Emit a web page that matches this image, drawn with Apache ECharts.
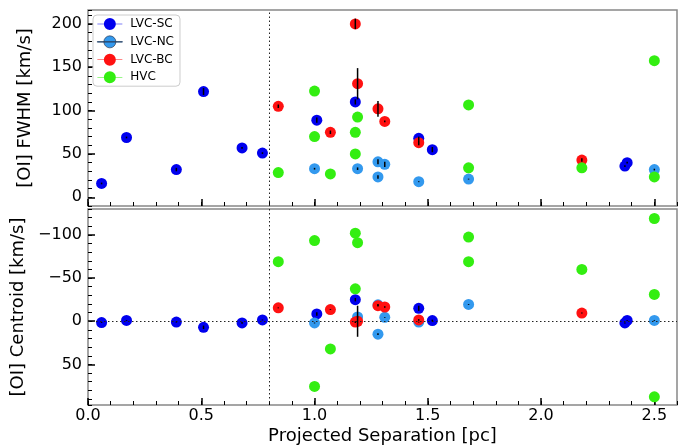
<!DOCTYPE html>
<html>
<head>
<meta charset="UTF-8"/>
<script src="https://cdn.jsdelivr.net/npm/echarts@6/dist/echarts.min.js"></script>
<style type="text/css">
	html, body { margin:0; padding:0; background:#fff; }
	#main { width:687px; height:448px; }
</style>
</head>
<body>
<div id="main"></div>
<script type="text/javascript">

// LVC-SC (broad blue)
var sepSC   = [0.06, 0.17, 0.39, 0.51, 0.68, 0.77, 1.01, 1.18, 1.46, 1.52, 2.37, 2.38];
var fwhmSC  = [16, 69, 32, 122, 57, 51, 89, 110, 68, 55, 36, 40];
var fwhmErrSC = [1, 1, 2, 4, 1, 1, 3, 3, 2, 3, 1, 1];
var cenSC   = [1.5, -1, 1, 7, 2, -1.5, -8.5, -25, -15, -0.8, 2, -1];
var cenErrSC  = [0.5, 0.5, 0.5, 2, 1, 0.5, 2, 2, 3, 1, 0.5, 0.5];

// LVC-NC
var sepNC   = [1.00, 1.19, 1.28, 1.31, 1.28, 1.46, 1.68, 2.50];
var fwhmNC  = [33, 33, 41, 38, 23.5, 18, 21, 32];
var fwhmErrNC = [1, 1.5, 3, 3, 2, 0.5, 0.5, 1];
var cenNC   = [2, -5, -19, -4.5, 15, 1, -19.5, -1];
var cenErrNC  = [0.5, 0.5, 1, 0.5, 1, 0.5, 0.5, 0.5];

// LVC-BC
var sepBC   = [0.84, 1.07, 1.18, 1.19, 1.28, 1.31, 1.46, 2.18];
var fwhmBC  = [105, 75, 200, 131, 102, 87.5, 63, 43];
var fwhmErrBC = [2, 2, 6, 18, 9, 1, 3, 2];
var cenBC   = [-15.5, -13.5, 1, 0, -18, -16.5, -1.5, -9.5];
var cenErrBC  = [0.5, 0.5, 1, 18, 1, 1, 1, 0.5];

// HVC
var sepHVC     = [0.84, 1.00, 1.00, 1.07, 1.18, 1.19, 1.18, 1.68, 1.68, 2.18, 2.50, 2.50];
var fwhmHVC    = [28.5, 122.5, 70, 27, 75, 92.5, 50, 106.5, 34, 34, 157.5, 23.5];
var sepHVCcen  = [0.84, 1.00, 1.00, 1.07, 1.18, 1.19, 1.18, 1.68, 1.68, 2.18, 2.50, 2.50, 2.50];
var cenHVC     = [-69, -93.5, 75.5, 32, -102, -91, -37.5, -97.5, -69, -60, -119, -31, 87.5];

// ticks
var xTicks    = [0, 0.5, 1.0, 1.5, 2.0, 2.5];
var fwhmTicks = [0, 50, 100, 150, 200];
var cenTicks  = [-100, -50, 0, 50];
var boundary  = 0.8;

var colors = {
	'LVC-SC': '#0000ee',
	'LVC-NC': '#3399ee',
	'LVC-BC': '#ff1111',
	'HVC': '#33ee11'
};

function zip(a, b, c){
	var out = [];
	for(var i=0;i<a.length;i++){
		out.push(c ? [a[i], b[i], c[i]] : [a[i], b[i]]);
	}
	return out;
}
function minus(v){
	return String(v).replace('-', '\u2212');
}

var chart = echarts.init(document.getElementById('main'));
var font = 'DejaVu Sans';
var frame = '#888888';

function mainX(grid, labels){
	return {
		type:'value', gridIndex:grid, min:0, max:2.6, position:'bottom',
		name: labels ? 'Projected Separation [pc]' : '',
		nameLocation:'middle', nameGap:22,
		nameTextStyle:{ fontFamily:font, fontSize:18, color:'#000' },
		axisLine:{ show:false, onZero:false },
		axisTick:{ inside:true, length:7, customValues:xTicks, lineStyle:{ color:'#000', width:1.5 } },
		axisLabel:{ show:labels, customValues:xTicks, margin:3, fontFamily:font, fontSize:16, color:'#000',
			formatter:function(v){ return v.toFixed(1); } },
		splitLine:{ show:false }
	};
}
function minorX(grid){
	return {
		type:'value', gridIndex:grid, min:0, max:2.6, interval:0.1, position:'bottom',
		axisLine:{ show:false, onZero:false },
		axisTick:{ inside:true, length:4, lineStyle:{ color:'#000', width:1 } },
		axisLabel:{ show:false },
		splitLine:{ show:false }
	};
}
function mainY(grid, name, mn, mx, ticks, inv){
	return {
		type:'value', gridIndex:grid, min:mn, max:mx, inverse:inv, position:'left',
		name:name, nameLocation:'middle', nameGap:54,
		nameTextStyle:{ fontFamily:font, fontSize:18, color:'#000' },
		axisLine:{ show:false, onZero:false },
		axisTick:{ inside:true, length:7, customValues:ticks, lineStyle:{ color:'#000', width:1.5 } },
		axisLabel:{ customValues:ticks, margin:6, fontFamily:font, fontSize:16, color:'#000', formatter:minus },
		splitLine:{ show:false }
	};
}
function minorY(grid, mn, mx, inv){
	return {
		type:'value', gridIndex:grid, min:mn, max:mx, interval:10, inverse:inv, position:'left',
		axisLine:{ show:false, onZero:false },
		axisTick:{ inside:true, length:4, lineStyle:{ color:'#000', width:1 } },
		axisLabel:{ show:false },
		splitLine:{ show:false }
	};
}

function scatter(name, grid, data){
	return {
		name:name, type:'scatter', xAxisIndex:grid, yAxisIndex:grid,
		data:data, symbolSize:11, z:3,
		itemStyle:{ color:colors[name], opacity:1 },
		emphasis:{ disabled:true }
	};
}
function errBars(grid, data){
	return {
		type:'custom', xAxisIndex:grid, yAxisIndex:grid, z:5, silent:true,
		data:data,
		renderItem:function(params, api){
			var x = api.value(0), y = api.value(1), e = api.value(2);
			var p1 = api.coord([x, y - e]);
			var p2 = api.coord([x, y + e]);
			return {
				type:'line',
				shape:{ x1:p1[0], y1:p1[1], x2:p2[0], y2:p2[1] },
				style:{ stroke:'#000', lineWidth:1.5 }
			};
		}
	};
}
function refLines(grid, lines){
	return {
		type:'line', xAxisIndex:grid, yAxisIndex:grid, data:[], z:1, silent:true,
		markLine:{
			silent:true, symbol:'none', animation:false,
			label:{ show:false },
			lineStyle:{ type:[1.5, 2.5], color:'#222', width:1 },
			data:lines
		}
	};
}

var legendIcon = 'path://M0,5.7L25,5.7L25,6.3L0,6.3Z M18.5,6A6,6 0 1 1 6.5,6A6,6 0 1 1 18.5,6Z';

var option = {
	animation:false,
	backgroundColor:'#fff',
	grid:[
		{ left:88, right:10, top:10, height:196, outerBoundsMode:'none', containLabel:false,
		  show:true, borderColor:frame, borderWidth:1.5, backgroundColor:'transparent' },
		{ left:88, right:10, top:209, height:196, outerBoundsMode:'none', containLabel:false,
		  show:true, borderColor:frame, borderWidth:1.5, backgroundColor:'transparent' }
	],
	legend:{
		orient:'vertical', left:93, top:15,
		padding:[3, 6, 3, 4], itemGap:5.5, itemWidth:25, itemHeight:12,
		backgroundColor:'#fff', borderColor:'#cccccc', borderWidth:1, borderRadius:4,
		icon:legendIcon,
		textStyle:{ fontFamily:font, fontSize:12, color:'#000', padding:[0,0,0,3] },
		data:[
			{ name:'LVC-SC' },
			{ name:'LVC-NC', itemStyle:{ borderColor:'#2a3a55', borderWidth:0.7 } },
			{ name:'LVC-BC' },
			{ name:'HVC' }
		]
	},
	xAxis:[ mainX(0, false), mainX(1, true), minorX(0), minorX(1) ],
	yAxis:[
		mainY(0, '[OI] FWHM [km/s]', -10, 216, fwhmTicks, false),
		mainY(1, '[OI] Centroid [km/s]', -130, 97, cenTicks, true),
		minorY(0, -10, 216, false),
		minorY(1, -130, 97, true)
	],
	series:[
		refLines(0, [{ xAxis:boundary }]),
		refLines(1, [{ xAxis:boundary }, { yAxis:0 }]),

		scatter('LVC-SC', 0, zip(sepSC, fwhmSC)),
		scatter('LVC-NC', 0, zip(sepNC, fwhmNC)),
		scatter('LVC-BC', 0, zip(sepBC, fwhmBC)),
		scatter('HVC', 0, zip(sepHVC, fwhmHVC)),

		scatter('LVC-SC', 1, zip(sepSC, cenSC)),
		scatter('LVC-NC', 1, zip(sepNC, cenNC)),
		scatter('LVC-BC', 1, zip(sepBC, cenBC)),
		scatter('HVC', 1, zip(sepHVCcen, cenHVC)),

		errBars(0, zip(sepSC, fwhmSC, fwhmErrSC)),
		errBars(0, zip(sepNC, fwhmNC, fwhmErrNC)),
		errBars(0, zip(sepBC, fwhmBC, fwhmErrBC)),
		errBars(1, zip(sepSC, cenSC, cenErrSC)),
		errBars(1, zip(sepNC, cenNC, cenErrNC)),
		errBars(1, zip(sepBC, cenBC, cenErrBC))
	]
};

chart.setOption(option);
</script>
</body>
</html>
